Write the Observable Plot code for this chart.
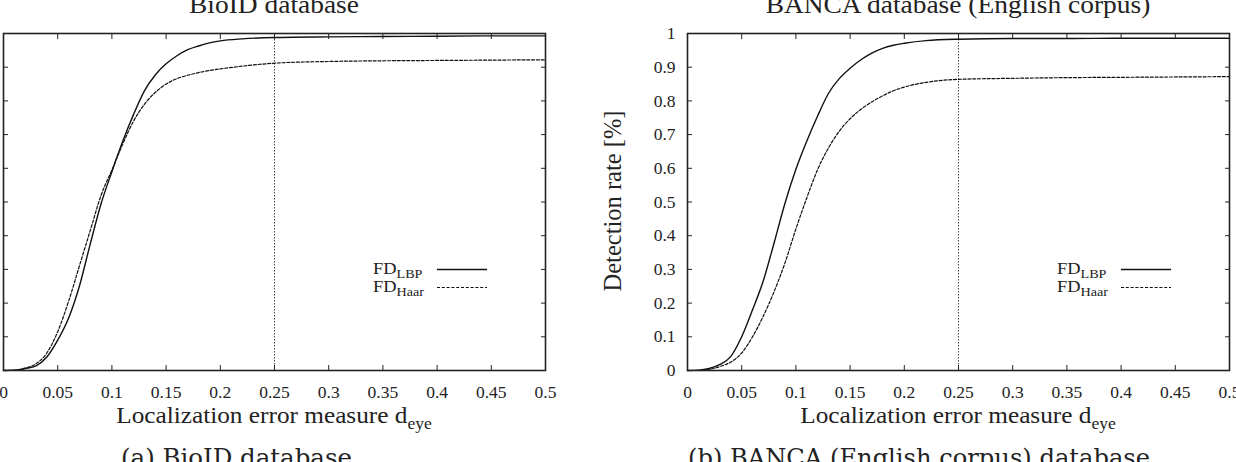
<!DOCTYPE html>
<html>
<head>
<meta charset="utf-8">
<script src="https://cdn.jsdelivr.net/npm/d3@7"></script>
<script src="https://cdn.jsdelivr.net/npm/@observablehq/plot@0.6"></script>
<style>
html, body { margin: 0; padding: 0; background: #fff; }
#fig { position: relative; width: 1236px; height: 462px; overflow: hidden; background: #fff; }
#fig > svg { position: absolute; top: 0; }
</style>
</head>
<body>
<div id="fig"></div>
<script>
// ---- data ----
const dEye = [0, 0.01, 0.02, 0.03, 0.04, 0.05, 0.06, 0.07, 0.08, 0.09, 0.1, 0.11, 0.12, 0.13, 0.14, 0.15, 0.16, 0.17, 0.18, 0.19, 0.2, 0.22, 0.25, 0.3, 0.35, 0.4, 0.45, 0.5];
const bioidLBP  = [0, 0.001, 0.006, 0.014, 0.04, 0.09, 0.155, 0.25, 0.375, 0.495, 0.59, 0.68, 0.76, 0.83, 0.877, 0.91, 0.934, 0.952, 0.963, 0.972, 0.978, 0.984, 0.988, 0.99, 0.991, 0.992, 0.993, 0.993];
const bioidHaar = [0, 0.001, 0.007, 0.02, 0.052, 0.115, 0.205, 0.31, 0.415, 0.52, 0.595, 0.672, 0.74, 0.79, 0.825, 0.85, 0.866, 0.876, 0.884, 0.89, 0.895, 0.903, 0.912, 0.917, 0.919, 0.92, 0.921, 0.922];
const bancaLBP  = [0, 0.001, 0.006, 0.018, 0.042, 0.1, 0.18, 0.267, 0.38, 0.497, 0.597, 0.68, 0.755, 0.822, 0.866, 0.897, 0.922, 0.942, 0.956, 0.965, 0.971, 0.979, 0.983, 0.985, 0.985, 0.986, 0.986, 0.986];
const bancaHaar = [0, 0, 0.003, 0.012, 0.025, 0.052, 0.1, 0.162, 0.235, 0.32, 0.42, 0.512, 0.596, 0.66, 0.71, 0.747, 0.775, 0.797, 0.815, 0.83, 0.841, 0.855, 0.864, 0.867, 0.869, 0.87, 0.871, 0.872];
const xTicks = [0, 0.05, 0.1, 0.15, 0.2, 0.25, 0.3, 0.35, 0.4, 0.45, 0.5];
const yTicks = [0, 0.1, 0.2, 0.3, 0.4, 0.5, 0.6, 0.7, 0.8, 0.9, 1];
const refLine = [0.25];
const panelTitles = ["BioID database", "BANCA database (English corpus)"];
const captions = ["(a) BioID database", "(b) BANCA (English corpus) database"];
const xLabelMain = "Localization error measure d";
const xLabelSub = "eye";
const yLabel = "Detection rate [%]";
const seriesNames = ["LBP", "Haar"];

// ---- layout ----
const MR = 20, MT = 33, MB = 30, PW = 542, H = 400;
const FONT = "'Liberation Serif', 'Times New Roman', serif";

function panel(lbp, haar, marginLeft, showYLabels) {
  const rows = dEye.map((d, i) => ({d, lbp: lbp[i], haar: haar[i]}));
  return Plot.plot({
    width: marginLeft + PW + MR, height: H,
    marginLeft, marginRight: MR, marginTop: MT, marginBottom: MB,
    x: {domain: [0, 0.5]},
    y: {domain: [0, 1]},
    style: {fontFamily: FONT, fontSize: "17.5px", color: "#222", background: "transparent", overflow: "visible"},
    marks: [
      Plot.ruleX(refLine, {stroke: "#444", strokeWidth: 1, strokeDasharray: "1.5,1.5"}),
      Plot.line(rows, {x: "d", y: "lbp", stroke: "#111", strokeWidth: 1.4, curve: "monotone-x"}),
      Plot.line(rows, {x: "d", y: "haar", stroke: "#111", strokeWidth: 1.2, strokeDasharray: "3,1.8", curve: "monotone-x"}),
      Plot.axisX({anchor: "bottom", ticks: xTicks, tickSize: -5, tickPadding: 20, tickFormat: d => String(d), label: null, stroke: "#222"}),
      Plot.axisX({anchor: "top", ticks: xTicks, tickSize: -5, tickFormat: () => "", label: null, stroke: "#222"}),
      Plot.axisY({anchor: "left", ticks: yTicks, tickSize: -5, tickPadding: 17, tickFormat: showYLabels ? (d => String(d)) : (() => ""), label: null, stroke: "#222"}),
      Plot.axisY({anchor: "right", ticks: yTicks, tickSize: -5, tickFormat: () => "", label: null, stroke: "#222"}),
      Plot.frame({stroke: "#222", strokeWidth: 1.6})
    ]
  });
}

const fig = document.getElementById("fig");
// left panel: its y tick labels fall outside the cropped figure, as in the reference
const left = panel(bioidLBP, bioidHaar, 3, false);
left.style.left = "0px";
fig.appendChild(left);
const right = panel(bancaLBP, bancaHaar, 87, true);
right.style.left = "600px";
fig.appendChild(right);

// ---- text overlay ----
const svg = d3.create("svg").attr("width", 1236).attr("height", 462)
  .style("left", "0px").style("pointer-events", "none")
  .attr("font-family", FONT).attr("fill", "#222");

const frameLeft = [3, 687];
const centers = frameLeft.map(f => f + PW / 2);

centers.forEach((cx, i) => {
  svg.append("text").attr("transform", `translate(${cx},13) scale(1.12,1)`)
    .attr("text-anchor", "middle").attr("font-size", 24.5).text(panelTitles[i]);
  const t = svg.append("text").attr("transform", `translate(${cx},423) scale(1.1,1)`)
    .attr("text-anchor", "middle").attr("font-size", 23);
  t.append("tspan").text(xLabelMain);
  t.append("tspan").attr("font-size", 16).attr("dy", 6).text(xLabelSub);

  const lx = frameLeft[i] + 370;
  const rowsY = [269.5, 287.5];
  seriesNames.forEach((s, k) => {
    const tt = svg.append("text").attr("transform", `translate(${lx},${rowsY[k] + 4}) scale(1.05,1)`)
      .attr("font-size", 17.5);
    tt.append("tspan").text("FD");
    tt.append("tspan").attr("font-size", 13.5).attr("dy", 4).text(s);
    svg.append("line")
      .attr("x1", frameLeft[i] + 434).attr("x2", frameLeft[i] + 484)
      .attr("y1", rowsY[k]).attr("y2", rowsY[k])
      .attr("stroke", "#111").attr("stroke-width", k === 0 ? 1.4 : 1.2)
      .attr("stroke-dasharray", k === 0 ? null : "3,1.8");
  });
});

svg.append("text").attr("transform", "translate(621,201) rotate(-90)")
  .attr("text-anchor", "middle").attr("font-size", 24.5).text(yLabel);

svg.append("text").attr("x", 121).attr("y", 466).attr("font-family", "'DejaVu Serif', serif")
  .attr("font-size", 24.5).attr("textLength", 231).attr("lengthAdjust", "spacingAndGlyphs").text(captions[0]);
svg.append("text").attr("x", 688).attr("y", 466).attr("font-family", "'DejaVu Serif', serif")
  .attr("font-size", 24.5).attr("textLength", 462).attr("lengthAdjust", "spacingAndGlyphs").text(captions[1]);

fig.appendChild(svg.node());
</script>
</body>
</html>
